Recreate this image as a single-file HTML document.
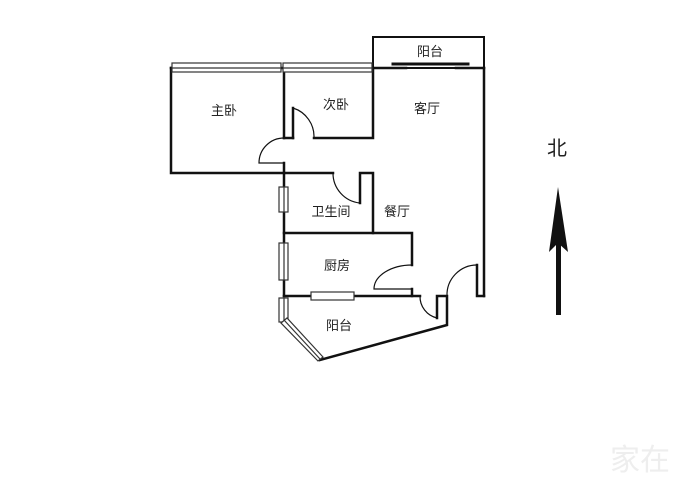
<!DOCTYPE html>
<html><head><meta charset="utf-8"><style>
html,body{margin:0;padding:0;background:#fff}
svg{display:block}
text{font-family:"Liberation Sans","Noto Sans CJK SC",sans-serif;fill:#222}
</style></head><body>
<svg width="700" height="489" viewBox="0 0 700 489" xmlns="http://www.w3.org/2000/svg">
<g fill="none" stroke="#111" stroke-width="2.5" stroke-linecap="square">
<!-- top balcony -->
<rect x="373" y="37" width="111" height="31" stroke-width="2"/>
<line x1="393" y1="64" x2="468" y2="64" stroke-width="3"/>
<!-- top wall -->
<line x1="171" y1="68" x2="406" y2="68"/>
<line x1="456" y1="68" x2="484" y2="68"/>
<!-- master bedroom -->
<polyline points="171,68 171,173 284,173"/>
<line x1="284" y1="68" x2="284" y2="138"/>
<line x1="284" y1="163" x2="284" y2="296"/>
<!-- second bedroom -->
<polyline points="293,138 293,108"/>
<line x1="284" y1="138" x2="293" y2="138"/>
<polyline points="314,138 373,138 373,68"/>
<!-- right wall -->
<line x1="484" y1="68" x2="484" y2="296"/>
<polyline points="484,296 477,296 477,265"/>
<!-- bathroom -->
<line x1="284" y1="173" x2="333" y2="173"/>
<polyline points="360,203 360,173 373,173 373,233"/>
<polyline points="284,233 412,233 412,265"/>
<!-- kitchen -->
<line x1="412" y1="289" x2="412" y2="296"/>
<line x1="284" y1="296" x2="420" y2="296"/>
<polyline points="437,318 437,296 447,296 447,325 320,360"/>
</g>
<!-- door arcs -->
<g fill="none" stroke="#111" stroke-width="1.2">
<path d="M293,108 A30,30 0 0 1 314,138"/>
<path d="M284,138 A25,25 0 0 0 259,163 L284,163"/>
<path d="M333,173 A30,30 0 0 0 360,203"/>
<path d="M412,265 A38,24 0 0 0 374,289 L412,289"/>
<path d="M420,296 A22,22 0 0 0 437,318"/>
<path d="M477,265 A30,30 0 0 0 447,296"/>
</g>
<!-- windows -->
<g fill="#fff" stroke="#333" stroke-width="1.2">
<rect x="172" y="63" width="109" height="9"/>
<line x1="172" y1="68" x2="281" y2="68"/>
<rect x="283" y="63" width="89" height="9"/>
<line x1="283" y1="68" x2="372" y2="68"/>
<rect x="279" y="187" width="9" height="25"/>
<line x1="284" y1="187" x2="284" y2="212"/>
<rect x="279" y="243" width="9" height="37"/>
<line x1="284" y1="243" x2="284" y2="280"/>
<rect x="279" y="298" width="9" height="24"/>
<line x1="284" y1="298" x2="284" y2="322"/>
<rect x="311" y="292" width="43" height="8"/>
<polygon points="281,323 287,318 323,357 318,361"/>
<line x1="284" y1="320" x2="320" y2="359"/>
</g>
<!-- labels -->
<g font-size="13" text-anchor="middle">
<text x="430" y="56">阳台</text>
<text x="224" y="115">主卧</text>
<text x="336" y="109">次卧</text>
<text x="427" y="113">客厅</text>
<text x="331" y="216">卫生间</text>
<text x="397" y="216">餐厅</text>
<text x="337" y="270">厨房</text>
<text x="339" y="330">阳台</text>
</g>
<text x="557" y="155" font-size="20" text-anchor="middle">北</text>
<!-- north arrow -->
<rect x="556" y="240" width="5" height="75" fill="#111"/>
<polygon points="558,187 568,252 558,243 549,252" fill="#111"/>
<text x="640" y="470" font-size="30" fill="#eee" style="fill:#eeeeee" text-anchor="middle">家在</text>
</svg>
</body></html>
